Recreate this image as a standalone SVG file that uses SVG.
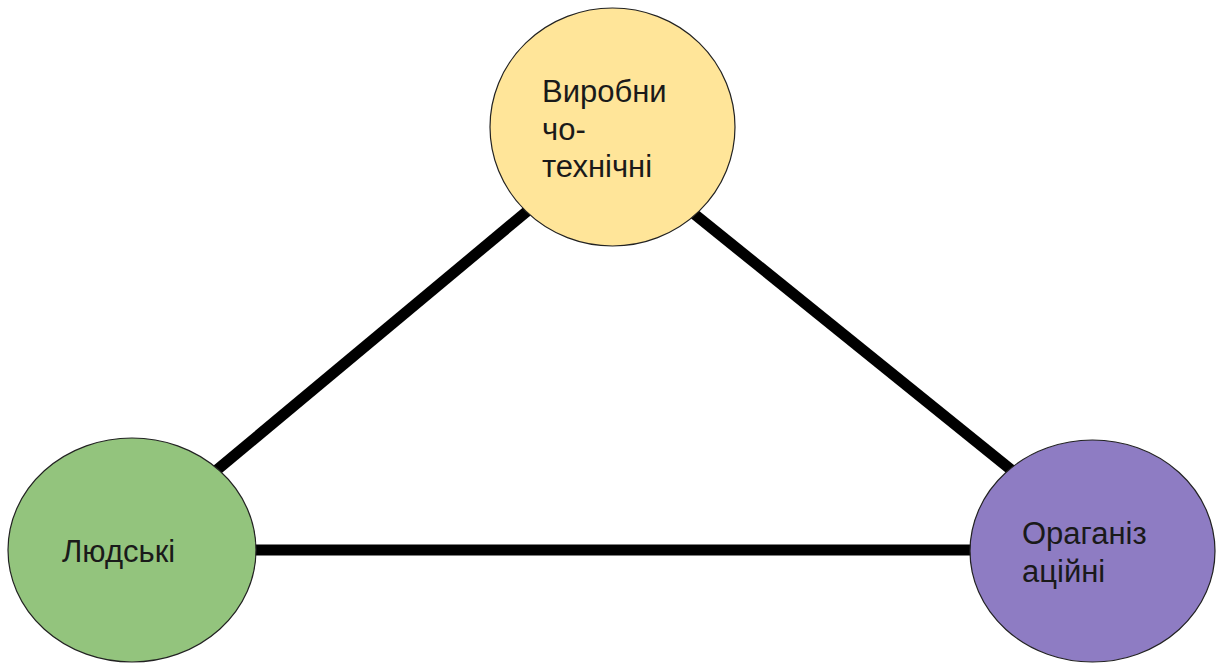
<svg xmlns="http://www.w3.org/2000/svg" width="1222" height="663" viewBox="0 0 1222 663">
  <style>
    .link { stroke: #000; stroke-width: 11; fill: none; }
    .node { stroke: #222; stroke-width: 1.2; }
    .label { font-family: "Liberation Sans", Arial, sans-serif; font-size: 31px; fill: #1a1a1a; }
  </style>
  <rect width="1222" height="663" fill="#fff"/>
  <!-- connectors sit under the circles -->
  <g id="connectors">
    <line class="link" x1="200" y1="484" x2="540" y2="200.5"/>
    <line class="link" x1="685" y1="206.5" x2="1020" y2="477"/>
    <line class="link" x1="240" y1="550" x2="990" y2="550"/>
  </g>
  <g id="node-production">
    <ellipse class="node" cx="612.5" cy="127" rx="122.5" ry="119" fill="#FFE599"/>
    <text class="label" x="542" y="102">Виробни</text>
    <text class="label" x="542" y="140">чо-</text>
    <text class="label" x="542" y="177">технічні</text>
  </g>
  <g id="node-human">
    <ellipse class="node" cx="132" cy="550" rx="124" ry="112" fill="#93C47D"/>
    <text class="label" x="62" y="562">Людські</text>
  </g>
  <g id="node-organization">
    <ellipse class="node" cx="1092.5" cy="551" rx="122.5" ry="111" fill="#8E7CC3"/>
    <text class="label" x="1022" y="544">Ораганіз</text>
    <text class="label" x="1022" y="582">аційні</text>
  </g>
</svg>
